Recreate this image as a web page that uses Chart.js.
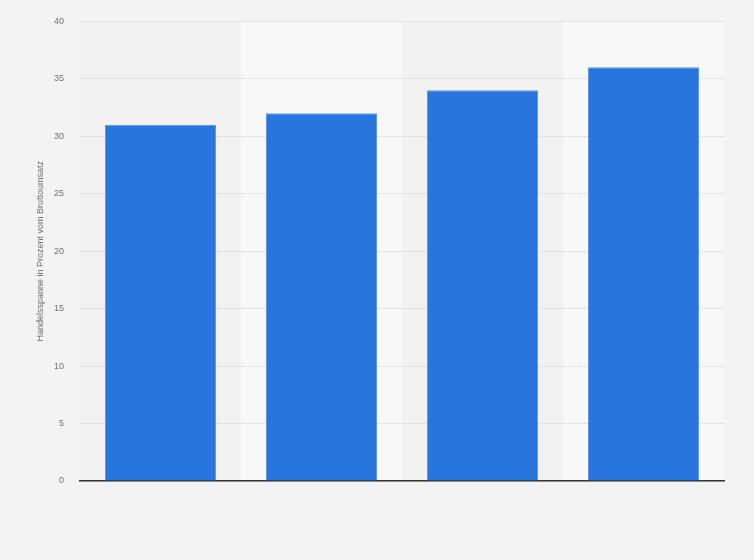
<!DOCTYPE html>
<html>
<head>
<meta charset="utf-8">
<script src="https://cdn.jsdelivr.net/npm/chart.js@4"></script>
<style>
html,body{margin:0;padding:0;background:#f3f3f3;}
#wrap{width:754px;height:560px;position:relative;}
</style>
</head>
<body>
<div id="wrap"><canvas id="c"></canvas></div>
<script>
const categories = ['1', '2', '3', '4'];
const values = [31, 32, 34, 36];
const yTicks = [0, 5, 10, 15, 20, 25, 30, 35, 40];
const yTitle = 'Handelsspanne in Prozent vom Bruttoumsatz';

const bandPlugin = {
  id: 'bands',
  beforeDraw(chart) {
    const {ctx, chartArea} = chart;
    const n = categories.length;
    const w = (chartArea.right - chartArea.left) / n;
    ctx.save();
    for (let i = 0; i < n; i++) {
      ctx.fillStyle = i % 2 === 0 ? '#f2f2f2' : '#f8f8f8';
      ctx.fillRect(chartArea.left + i * w, chartArea.top, w, chartArea.bottom - chartArea.top);
    }
    ctx.restore();
  }
};

new Chart(document.getElementById('c'), {
  type: 'bar',
  data: {
    labels: categories,
    datasets: [{
      data: values,
      backgroundColor: '#2876dd',
      borderColor: '#5a97e6',
      borderWidth: 1,
      barPercentage: 0.69,
      categoryPercentage: 1
    }]
  },
  plugins: [bandPlugin],
  options: {
    responsive: true,
    maintainAspectRatio: false,
    animation: false,
    layout: {padding: {left: 35, right: 30, top: 14, bottom: 79}},
    plugins: {legend: {display: false}, tooltip: {enabled: false}},
    scales: {
      x: {
        grid: {display: false, drawTicks: false},
        border: {color: '#333', width: 1.5},
        ticks: {display: false}
      },
      y: {
        min: 0, max: 40,
        afterBuildTicks(s) { s.ticks = yTicks.map(v => ({value: v})); },
        afterFit(s) { s.width = 45; },
        grid: {color: '#cfcfcf', drawTicks: false},
        border: {display: false, dash: [1, 1]},
        ticks: {color: '#707070', font: {family: 'Arial, Liberation Sans', size: 9}, padding: 16},
        title: {display: true, text: yTitle, color: '#707070', font: {family: 'Arial, Liberation Sans', size: 9}, padding: 0}
      }
    }
  }
});
</script>
</body>
</html>
